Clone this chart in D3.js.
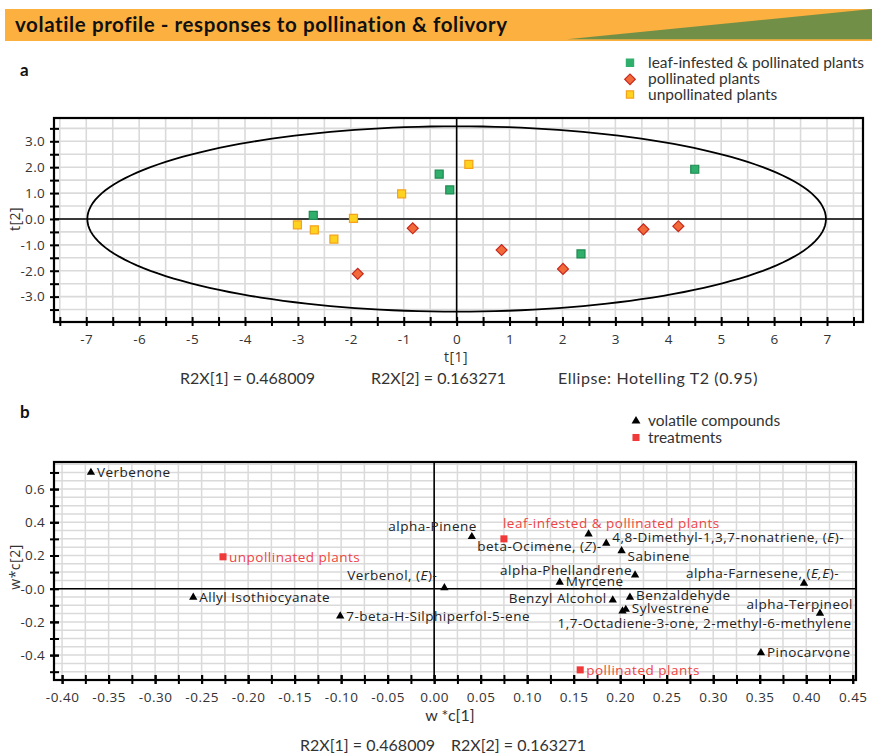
<!DOCTYPE html>
<html>
<head>
<meta charset="utf-8">
<script src="https://cdn.jsdelivr.net/npm/d3@7"></script>
<style>
  html, body { margin: 0; padding: 0; background: #fff; }
  svg { display: block; }
  .simca { font-family: "Open Sans", "DejaVu Sans", sans-serif; font-size: 13.5px; letter-spacing: 0.5px; fill: #333; }
  .cal { font-family: Lato, "Open Sans", sans-serif; fill: #333; }
</style>
</head>
<body>
<svg id="chart" width="872" height="755"></svg>
<script>
// ---------- Panel a: score plot (t[1] vs t[2]) ----------
const scoreGroups = ["leaf-infested & pollinated plants", "pollinated plants", "unpollinated plants"];
const scoreT1 = [-2.71, -0.33, -0.13, 4.50, 2.35,
                 -0.83, -1.87, 0.85, 2.01, 3.53, 4.19,
                 -3.01, -2.69, -2.32, -1.95, -1.04, 0.23];
const scoreT2 = [0.14, 1.73, 1.12, 1.92, -1.35,
                 -0.36, -2.12, -1.20, -1.93, -0.40, -0.28,
                 -0.23, -0.42, -0.78, 0.02, 0.97, 2.11];
const scoreGroup = [0, 0, 0, 0, 0,
                    1, 1, 1, 1, 1, 1,
                    2, 2, 2, 2, 2, 2];
const t1TickValues = [-7, -6, -5, -4, -3, -2, -1, 0, 1, 2, 3, 4, 5, 6, 7];
const t1TickLabels = ["-7", "-6", "-5", "-4", "-3", "-2", "-1", "0", "1", "2", "3", "4", "5", "6", "7"];
const t2TickValues = [3, 2, 1, 0, -1, -2, -3];
const t2TickLabels = ["3.0", "2.0", "1.0", "0.0", "-1.0", "-2.0", "-3.0"];
const hotellingT1 = 6.98;   // ellipse semi-axis along t[1]
const hotellingT2 = 3.58;   // ellipse semi-axis along t[2]
const r2x = ["R2X[1] = 0.468009", "R2X[2] = 0.163271"];

// ---------- Panel b: loading plot (w*c[1] vs w*c[2]) ----------
const compoundNames = ["Verbenone", "Allyl Isothiocyanate", "7-beta-H-Silphiperfol-5-ene", "Verbenol, (E)-",
  "alpha-Pinene", "beta-Ocimene, (Z)-", "4,8-Dimethyl-1,3,7-nonatriene, (E)-", "Sabinene",
  "alpha-Phellandrene", "Myrcene", "alpha-Farnesene, (E,E)-", "Benzyl Alcohol", "Benzaldehyde",
  "Sylvestrene", "1,7-Octadiene-3-one, 2-methyl-6-methylene", "alpha-Terpineol", "Pinocarvone"];
const compoundWC1 = [-0.369, -0.259, -0.101, 0.011, 0.0405, 0.166, 0.185, 0.2015,
  0.216, 0.135, 0.3976, 0.192, 0.2105, 0.206, 0.2025, 0.4148, 0.3513];
const compoundWC2 = [0.700, -0.052, -0.165, 0.005, 0.313, 0.329, 0.273, 0.228,
  0.082, 0.038, 0.032, -0.069, -0.052, -0.125, -0.135, -0.149, -0.386];
const treatmentNames = ["unpollinated plants", "leaf-infested & pollinated plants", "pollinated plants"];
const treatmentWC1 = [-0.227, 0.075, 0.157];
const treatmentWC2 = [0.192, 0.300, -0.489];
const wc1TickValues = [-0.40, -0.35, -0.30, -0.25, -0.20, -0.15, -0.10, -0.05, 0.00, 0.05, 0.10, 0.15, 0.20, 0.25, 0.30, 0.35, 0.40, 0.45];
const wc1TickLabels = ["-0.40", "-0.35", "-0.30", "-0.25", "-0.20", "-0.15", "-0.10", "-0.05", "0.00", "0.05", "0.10", "0.15", "0.20", "0.25", "0.30", "0.35", "0.40", "0.45"];
const wc2TickValues = [0.6, 0.4, 0.2, 0, -0.2, -0.4];
const wc2TickLabels = ["0.6", "0.4", "0.2", "-0.0", "-0.2", "-0.4"];

// ---------- drawing ----------
const svg = d3.select("#chart");
svg.append("rect").attr("width", 872).attr("height", 755).attr("fill", "#fff");

// header banner
svg.append("rect").attr("x", 5).attr("y", 9).attr("width", 867).attr("height", 32).attr("fill", "#FBB040");
svg.append("path").attr("d", "M567,39.3 L872,9 L872,39.3 Z").attr("fill", "#728F47");
svg.append("text").attr("class", "cal").attr("x", 15).attr("y", 31.5)
  .style("font-size", "20.5px").style("font-weight", "bold").style("letter-spacing", "0.6px").style("fill", "#111")
  .text("volatile profile - responses to pollination & folivory");

svg.append("text").attr("class", "cal").attr("x", 20).attr("y", 76).style("font-size", "17px")
  .style("font-weight", "bold").style("fill", "#111").text("a");
svg.append("text").attr("class", "cal").attr("x", 20).attr("y", 418).style("font-size", "17px")
  .style("font-weight", "bold").style("fill", "#111").text("b");

const groupStyle = [
  { fill: "#2FAF6B", stroke: "#1F8A50", shape: "square" },
  { fill: "#F26A3A", stroke: "#C8281E", shape: "diamond" },
  { fill: "#FFD21F", stroke: "#F5A11A", shape: "square" }
];
// squares are used for both shapes; a diamond is a square turned by 45 degrees
function markerPath(shape, size) {
  return d3.symbol().type(d3.symbolSquare).size(size)();
}

function drawFrameAxes(g, x, y, opt) {
  const [x0, x1] = x.range();
  const [y0, y1] = y.range(); // y0 bottom, y1 top
  // grid
  const grid = g.append("g");
  grid.selectAll("line.gx").data(opt.gridX).join("line")
    .attr("x1", d => x(d)).attr("x2", d => x(d)).attr("y1", y1).attr("y2", y0)
    .attr("stroke", "#DADADA").attr("stroke-width", opt.gridW);
  grid.selectAll("line.gy").data(opt.gridY).join("line")
    .attr("y1", d => y(d)).attr("y2", d => y(d)).attr("x1", x0).attr("x2", x1)
    .attr("stroke", "#DADADA").attr("stroke-width", opt.gridW);
  // zero lines
  g.append("line").attr("x1", x(0)).attr("x2", x(0)).attr("y1", y1).attr("y2", y0)
    .attr("stroke", "#000").attr("stroke-width", 1.6);
  g.append("line").attr("x1", x0).attr("x2", x1).attr("y1", y(0)).attr("y2", y(0))
    .attr("stroke", "#000").attr("stroke-width", 1.6);

  // minor ticks (no labels)
  const xMinor = g.append("g").attr("transform", `translate(0,${y0})`)
    .call(d3.axisBottom(x).tickValues(opt.minorX).tickSize(4).tickFormat(""));
  xMinor.select(".domain").remove();
  xMinor.selectAll(".tick line").attr("y1", -5).attr("y2", 4).attr("stroke-width", 2);
  const yMinor = g.append("g").attr("transform", `translate(${x0},0)`)
    .call(d3.axisLeft(y).tickValues(opt.minorY).tickSize(4).tickFormat(""));
  yMinor.select(".domain").remove();
  yMinor.selectAll(".tick line").attr("x1", 5).attr("x2", -4).attr("stroke-width", 2);

  // labelled axes
  const xa = g.append("g").attr("transform", `translate(0,${y0})`)
    .call(d3.axisBottom(x).tickValues(opt.xVals).tickSize(4).tickPadding(opt.xPad)
      .tickFormat((d, i) => opt.xLabels[i]));
  xa.select(".domain").remove();
  xa.selectAll(".tick line").attr("y1", -5).attr("y2", 4).attr("stroke-width", 2);
  xa.selectAll("text").attr("class", "simca").attr("fill", null).style("font-size", opt.fs);
  const ya = g.append("g").attr("transform", `translate(${x0},0)`)
    .call(d3.axisLeft(y).tickValues(opt.yVals).tickSize(4).tickPadding(opt.yPad)
      .tickFormat((d, i) => opt.yLabels[i]));
  ya.select(".domain").remove();
  ya.selectAll(".tick line").attr("x1", 5).attr("x2", -4).attr("stroke-width", 2);
  ya.selectAll("text").attr("class", "simca").attr("fill", null).style("font-size", opt.fs)
    .style("letter-spacing", "0.3px");
  g.selectAll(".tick").attr("font-family", null).attr("font-size", null);

  // frame
  g.append("rect").attr("x", x0).attr("y", y1).attr("width", x1 - x0).attr("height", y0 - y1)
    .attr("fill", "none").attr("stroke", "#000").attr("stroke-width", 2.2);
}

// ----- panel a -----
const xA = d3.scaleLinear().domain([-7.61, 7.68]).range([54, 863]);
const yA = d3.scaleLinear().domain([-3.98, 3.90]).range([322, 118]);
const gA = svg.append("g");
drawFrameAxes(gA, xA, yA, {
  gridX: d3.range(-7.5, 7.51, 0.5), gridY: d3.range(-3.5, 3.51, 0.5), gridW: 1.6,
  minorX: d3.range(-7.5, 7.51, 1), minorY: d3.range(-3.5, 3.51, 1),
  xVals: t1TickValues, xLabels: t1TickLabels, yVals: t2TickValues, yLabels: t2TickLabels,
  xPad: 8, yPad: 5, fs: "13.5px"
});

// Hotelling T2 ellipse
const ellipsePts = d3.range(0, 361, 2).map(a => [hotellingT1 * Math.cos(a * Math.PI / 180), hotellingT2 * Math.sin(a * Math.PI / 180)]);
gA.append("path").datum(ellipsePts)
  .attr("d", d3.line().x(d => xA(d[0])).y(d => yA(d[1])).curve(d3.curveLinearClosed))
  .attr("fill", "none").attr("stroke", "#000").attr("stroke-width", 1.8);

// score points
const scores = scoreT1.map((v, i) => ({ t1: v, t2: scoreT2[i], g: scoreGroup[i] }));
gA.append("g").selectAll("path").data(scores).join("path")
  .attr("d", d => markerPath(groupStyle[d.g].shape, groupStyle[d.g].shape === "diamond" ? 60 : 64))
  .attr("transform", d => `translate(${xA(d.t1)},${yA(d.t2)})` + (groupStyle[d.g].shape === "diamond" ? " rotate(45)" : ""))
  .attr("fill", d => groupStyle[d.g].fill).attr("stroke", d => groupStyle[d.g].stroke).attr("stroke-width", 1.2);

// axis titles a
gA.append("text").attr("class", "simca").attr("transform", "translate(20,219) rotate(-90)")
  .attr("text-anchor", "middle").style("font-size", "14px").text("t[2]");
gA.append("text").attr("class", "simca").attr("x", 456).attr("y", 362)
  .attr("text-anchor", "middle").style("font-size", "14px").text("t[1]");
gA.append("text").attr("class", "cal").attr("x", 180).attr("y", 384).style("font-size", "16px").text(r2x[0]);
gA.append("text").attr("class", "cal").attr("x", 371).attr("y", 384).style("font-size", "16px").text(r2x[1]);
gA.append("text").attr("class", "cal").attr("x", 558).attr("y", 384).style("font-size", "16px")
  .style("letter-spacing", "0.6px").text("Ellipse: Hotelling T2 (0.95)");

// legend a
const legA = svg.append("g");
scoreGroups.forEach((name, i) => {
  const cy = [62.7, 79.3, 94.5][i];
  const st = groupStyle[i];
  legA.append("path")
    .attr("d", markerPath(st.shape, st.shape === "diamond" ? 56 : 52))
    .attr("transform", `translate(630,${cy})` + (st.shape === "diamond" ? " rotate(45)" : ""))
    .attr("fill", st.fill).attr("stroke", i === 0 ? st.fill : st.stroke).attr("stroke-width", 1.2);
  legA.append("text").attr("class", "cal").attr("x", 648).attr("y", cy + 5).style("font-size", "15.5px").text(name);
});

// ----- panel b -----
const xB = d3.scaleLinear().domain([-0.4087, 0.4535]).range([54, 856]);
const yB = d3.scaleLinear().domain([-0.55, 0.763]).range([680, 462]);
const gB = svg.append("g");
drawFrameAxes(gB, xB, yB, {
  gridX: d3.range(-0.4, 0.451, 0.025), gridY: d3.range(-0.55, 0.76, 0.05), gridW: 1.5,
  minorX: d3.range(-0.4, 0.451, 0.025), minorY: d3.range(-0.5, 0.71, 0.1),
  xVals: wc1TickValues, xLabels: wc1TickLabels, yVals: wc2TickValues, yLabels: wc2TickLabels,
  xPad: 8, yPad: 5, fs: "13.5px"
});

// label placement around each marker: [anchor, dx, dy]
const labelPlacement = {
  "Verbenone": ["start", 6, 0],
  "Allyl Isothiocyanate": ["start", 6, 0],
  "7-beta-H-Silphiperfol-5-ene": ["start", 6, 0],
  "Verbenol, (E)-": ["end", -7, -13],
  "alpha-Pinene": ["end", 5, -10],
  "beta-Ocimene, (Z)-": ["end", 13, 12.5],
  "4,8-Dimethyl-1,3,7-nonatriene, (E)-": ["start", 6, -6.5],
  "Sabinene": ["start", 6, 5],
  "alpha-Phellandrene": ["end", -3, -5],
  "Myrcene": ["start", 6, -1],
  "alpha-Farnesene, (E,E)-": ["end", 35, -10],
  "Benzyl Alcohol": ["end", -6, -2],
  "Benzaldehyde": ["start", 6, -2],
  "Sylvestrene": ["start", 6, -1],
  "1,7-Octadiene-3-one, 2-methyl-6-methylene": ["start", -65, 12.3],
  "alpha-Terpineol": ["end", 33, -9],
  "Pinocarvone": ["start", 6, 0],
  "unpollinated plants": ["start", 6, 0],
  "leaf-infested & pollinated plants": ["start", -1, -16],
  "pollinated plants": ["start", 6, 0]
};

// writes compound names with the stereo descriptor (E), (Z), (E,E) in italics
function richLabel(sel, name) {
  const m = name.match(/^(.*\()([EZ,]+)(\)-)$/);
  if (!m) { sel.text(name); return; }
  sel.append("tspan").text(m[1]);
  sel.append("tspan").style("font-style", "italic").text(m[2]);
  sel.append("tspan").text(m[3]);
}

const compounds = compoundNames.map((n, i) => ({ name: n, x: compoundWC1[i], y: compoundWC2[i] }));
const treatments = treatmentNames.map((n, i) => ({ name: n, x: treatmentWC1[i], y: treatmentWC2[i] }));

const tri = d3.symbol().type(d3.symbolTriangle).size(30)();
gB.append("g").selectAll("path").data(compounds).join("path")
  .attr("d", tri).attr("transform", d => `translate(${xB(d.x)},${yB(d.y)})`).attr("fill", "#000");
gB.append("g").selectAll("path").data(treatments).join("path")
  .attr("d", d3.symbol().type(d3.symbolSquare).size(50)())
  .attr("transform", d => `translate(${xB(d.x)},${yB(d.y)})`).attr("fill", "#F03A3A");

gB.append("g").selectAll("text").data(compounds).join("text")
  .attr("class", "simca")
  .attr("x", d => xB(d.x) + labelPlacement[d.name][1])
  .attr("y", d => yB(d.y) + labelPlacement[d.name][2])
  .attr("dy", "0.35em")
  .attr("text-anchor", d => labelPlacement[d.name][0])
  .style("fill", "#222")
  .each(function (d) { richLabel(d3.select(this), d.name); });
gB.append("g").selectAll("text").data(treatments).join("text")
  .attr("class", "simca")
  .attr("x", d => xB(d.x) + labelPlacement[d.name][1])
  .attr("y", d => yB(d.y) + labelPlacement[d.name][2])
  .attr("dy", "0.35em")
  .attr("text-anchor", d => labelPlacement[d.name][0])
  .style("fill", "#EE4444")
  .text(d => d.name);

// axis titles b
gB.append("text").attr("class", "simca").attr("transform", "translate(20,567) rotate(-90)")
  .attr("text-anchor", "middle").style("font-size", "14px").text("w*c[2]");
gB.append("text").attr("class", "cal").attr("x", 450).attr("y", 721)
  .attr("text-anchor", "middle").style("font-size", "16px").text("w *c[1]");
gB.append("text").attr("class", "cal").attr("x", 300).attr("y", 751).style("font-size", "16px").text(r2x[0]);
gB.append("text").attr("class", "cal").attr("x", 451).attr("y", 751).style("font-size", "16px").text(r2x[1]);

// legend b
const legB = svg.append("g");
legB.append("path").attr("d", d3.symbol().type(d3.symbolTriangle).size(34)()).attr("transform", "translate(636,421)").attr("fill", "#000");
legB.append("text").attr("class", "cal").attr("x", 648).attr("y", 426).style("font-size", "15.5px").text("volatile compounds");
legB.append("path").attr("d", d3.symbol().type(d3.symbolSquare).size(50)()).attr("transform", "translate(636,437.5)").attr("fill", "#F03A3A");
legB.append("text").attr("class", "cal").attr("x", 648).attr("y", 442.5).style("font-size", "15.5px").text("treatments");
</script>
</body>
</html>
